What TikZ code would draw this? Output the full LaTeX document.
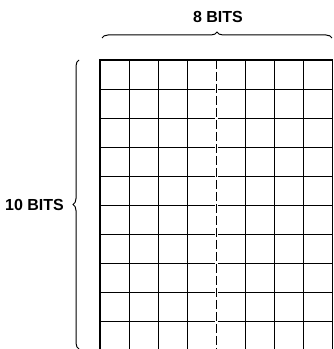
\documentclass[tikz,border=0pt]{standalone}
\usepackage{fontspec}
\setmainfont{Liberation Sans}
\usetikzlibrary{decorations.pathreplacing}
\tikzset{bitlabel/.style={font=\fontsize{16}{19}\selectfont\bfseries,inner sep=0pt},
bitbrace/.style={decorate,decoration={brace,amplitude=6pt},line width=1pt}}
\begin{document}
\begin{tikzpicture}[x=1pt,y=1pt]
\useasboundingbox(0,0)rectangle(333,349);
\begin{scope}
\clip(0,0)rectangle(333,349);
\begin{scope}[shift={(100,-2)}]
\draw[line width=0.8pt](0,0)grid[xstep=29.06,ystep=29.1](232.5,291);
\fill[white](114.5,0)rectangle(118,291);
\draw[line width=1.1pt,dash pattern=on 9pt off 3pt](116.25,291)--(116.25,0);
\draw[line width=1.5pt](0,0)--(0,291)--(232.5,291);
\draw[line width=1pt](232.5,291)--(232.5,0);
\end{scope}
\end{scope}
\draw[bitbrace](102,311)--(332,311);
\draw[bitbrace](79,0)--(79,289);
\node[bitlabel](top)at(218,332){8 BITS};
\node[bitlabel,anchor=east](side)at(64,144.5){10 BITS};
\end{tikzpicture}
\end{document}
